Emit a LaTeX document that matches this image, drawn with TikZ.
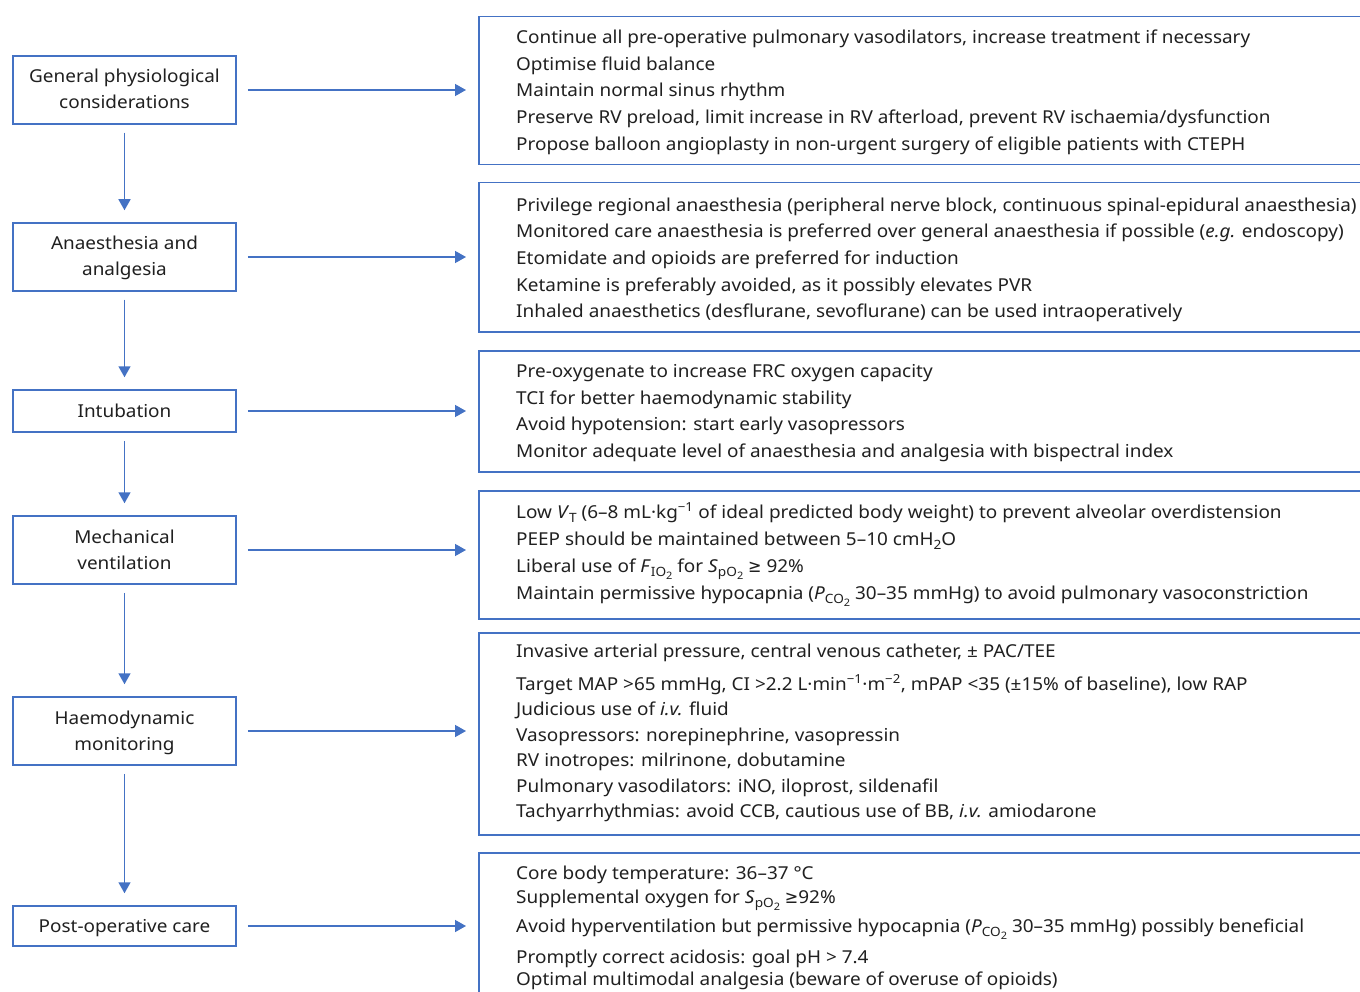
\documentclass[tikz,border=0pt]{standalone}
\usepackage{fontspec}
\usetikzlibrary{arrows.meta}
\newlength\capH
\newlength\lineW
\newfontfamily\calfont{Noto Sans}
\newfontfamily\symfont{DejaVu Sans}
\definecolor{fblue}{HTML}{4472C4}
\definecolor{ftext}{HTML}{202020}
\AtBeginDocument{%
 \settoheight{\capH}{\calfont\fontsize{10pt}{12pt}\selectfont H}%
 \pgfmathsetmacro\fsz{10*12.7/\capH}%
 \pgfmathsetmacro\ssz{0.72*\fsz}%
 \pgfmathsetmacro\sssz{0.58*\fsz}%
 \settowidth{\lineW}{\calfont\fontsize{\fsz pt}{20pt}\selectfont Continue all pre-operative pulmonary vasodilators, increase treatment if necessary}%
 \pgfmathsetmacro\fstr{734/\lineW}%
 \edef\tmp{\noexpand\newfontfamily\noexpand\bodyfont[FakeStretch=\fstr]{Noto Sans}}\tmp
}
\newcommand{\sub}[1]{\raisebox{-4.5pt}{\fontsize{\ssz pt}{10pt}\selectfont #1}}
\newcommand{\subb}[1]{\raisebox{-3pt}{\fontsize{\sssz pt}{8pt}\selectfont #1}}
\newcommand{\spr}[1]{\textsuperscript{#1}}
\newcommand{\gesym}{{\symfont\addfontfeature{FakeStretch=0.9}≥}}
\begin{document}
\begin{tikzpicture}[x=1pt,y=-1pt,
  txt/.style={font=\bodyfont\fontsize{\fsz pt}{26pt}\selectfont, text=ftext},
  lbox/.style={txt, draw=fblue, line width=1.5pt, minimum width=223pt, inner sep=0pt, align=center, text height=13pt, text depth=1pt},
  lboxtwo/.style={lbox, text height=39pt},
  rbox/.style={draw=fblue, line width=1.5pt, minimum width=1000pt, inner sep=0pt, anchor=north west},
  ln/.style={txt, anchor=base west, inner sep=0pt},
  flow/.style={draw=fblue, line width=1.5pt, -{Triangle[length=11pt,width=12pt]}},
  down/.style={flow, shorten <=8pt, shorten >=12pt},
  side/.style={flow, shorten <=11pt, shorten >=12pt}]
\useasboundingbox (0,0) rectangle (1360,992);
\clip (0,0) rectangle (1360,992);
\fill[white] (0,0) rectangle (1360,992);

% left boxes
\node[lboxtwo, minimum height=68pt] (l1) at (124.5,90) {General physiological\\considerations};
\node[lboxtwo, minimum height=68pt] (l2) at (124.5,257) {Anaesthesia and\\analgesia};
\node[lbox, minimum height=42pt] (l3) at (124.5,411) {Intubation};
\node[lboxtwo, minimum height=68pt] (l4) at (124.5,550) {Mechanical\\ventilation};
\node[lboxtwo, minimum height=68pt] (l5) at (124.5,731) {Haemodynamic\\monitoring};
\node[lbox, minimum height=40pt] (l6) at (124.5,926) {Post-operative care};

% right boxes
\node[rbox, minimum height=148pt] (r1) at (478,16) {};
\node[rbox, minimum height=149pt] (r2) at (478,182) {};
\node[rbox, minimum height=121pt] (r3) at (478,350) {};
\node[rbox, minimum height=128pt] (r4) at (478,490) {};
\node[rbox, minimum height=202pt] (r5) at (478,632) {};
\node[rbox, minimum height=300pt] (r6) at (478,852) {};

% arrows
\draw[down] (l1) -- (l2);
\draw[down] (l2) -- (l3);
\draw[down] (l3) -- (l4);
\draw[down] (l4) -- (l5);
\draw[down] (l5) -- (l6);
\draw[side] (l1.east) -- (l1.east -| r1.west);
\draw[side] (l2.east) -- (l2.east -| r2.west);
\draw[side] (l3.east) -- (l3.east -| r3.west);
\draw[side] (l4.east) -- (l4.east -| r4.west);
\draw[side] (l5.east) -- (l5.east -| r5.west);
\draw[side] (l6.east) -- (l6.east -| r6.west);

% box 1 text
\node[ln] (t11) at (516,44) {Continue all pre-operative pulmonary vasodilators, increase treatment if necessary};
\node[ln] (t12) at (516,71) {Optimise fluid balance};
\node[ln] (t13) at (516,97) {Maintain normal sinus rhythm};
\node[ln] (t14) at (516,124) {Preserve RV preload, limit increase in RV afterload, prevent RV ischaemia/dysfunction};
\node[ln] (t15) at (516,151) {Propose balloon angioplasty in non-urgent surgery of eligible patients with CTEPH};

% box 2 text
\node[ln] (t21) at (516,212) {Privilege regional anaesthesia (peripheral nerve block, continuous spinal-epidural anaesthesia)};
\node[ln] (t22) at (516,238) {Monitored care anaesthesia is preferred over general anaesthesia if possible (\textit{e.g.} endoscopy)};
\node[ln] (t23) at (516,265) {Etomidate and opioids are preferred for induction};
\node[ln] (t24) at (516,292) {Ketamine is preferably avoided, as it possibly elevates PVR};
\node[ln] (t25) at (516,318) {Inhaled anaesthetics (desflurane, sevoflurane) can be used intraoperatively};

% box 3 text
\node[ln] (t31) at (516,377) {Pre-oxygenate to increase FRC oxygen capacity};
\node[ln] (t32) at (516,404) {TCI for better haemodynamic stability};
\node[ln] (t33) at (516,430) {Avoid hypotension: start early vasopressors};
\node[ln] (t34) at (516,457) {Monitor adequate level of anaesthesia and analgesia with bispectral index};

% box 4 text
\node[ln] (t41) at (516,518) {Low \textit{V}\sub{T} (6–8 mL·kg\spr{−1} of ideal predicted body weight) to prevent alveolar overdistension};
\node[ln] (t42) at (516,545) {PEEP should be maintained between 5–10 cmH\sub{2}O};
\node[ln] (t43) at (516,572) {Liberal use of \textit{F}\sub{IO\subb{2}} for \textit{S}\sub{pO\subb{2}} \gesym{} 92\%};
\node[ln] (t44) at (516,599) {Maintain permissive hypocapnia (\textit{P}\sub{CO\subb{2}} 30–35 mmHg) to avoid pulmonary vasoconstriction};

% box 5 text
\node[ln] (t51) at (516,657) {Invasive arterial pressure, central venous catheter, ± PAC/TEE};
\node[ln] (t52) at (516,690) {Target MAP >65 mmHg, CI >2.2 L·min\spr{−1}·m\spr{−2}, mPAP <35 (±15\% of baseline), low RAP};
\node[ln] (t53) at (516,715) {Judicious use of \textit{i.v.} fluid};
\node[ln] (t54) at (516,741) {Vasopressors: norepinephrine, vasopressin};
\node[ln] (t55) at (516,766) {RV inotropes: milrinone, dobutamine};
\node[ln] (t56) at (516,792) {Pulmonary vasodilators: iNO, iloprost, sildenafil};
\node[ln] (t57) at (516,817) {Tachyarrhythmias: avoid CCB, cautious use of BB, \textit{i.v.} amiodarone};

% box 6 text
\node[ln] (t61) at (516,879) {Core body temperature: 36–37 °C};
\node[ln] (t62) at (516,903) {Supplemental oxygen for \textit{S}\sub{pO\subb{2}} \gesym92\%};
\node[ln] (t63) at (516,932) {Avoid hyperventilation but permissive hypocapnia (\textit{P}\sub{CO\subb{2}} 30–35 mmHg) possibly beneficial};
\node[ln] (t64) at (516,963) {Promptly correct acidosis: goal pH > 7.4};
\node[ln] (t65) at (516,985) {Optimal multimodal analgesia (beware of overuse of opioids)};
\end{tikzpicture}
\end{document}
